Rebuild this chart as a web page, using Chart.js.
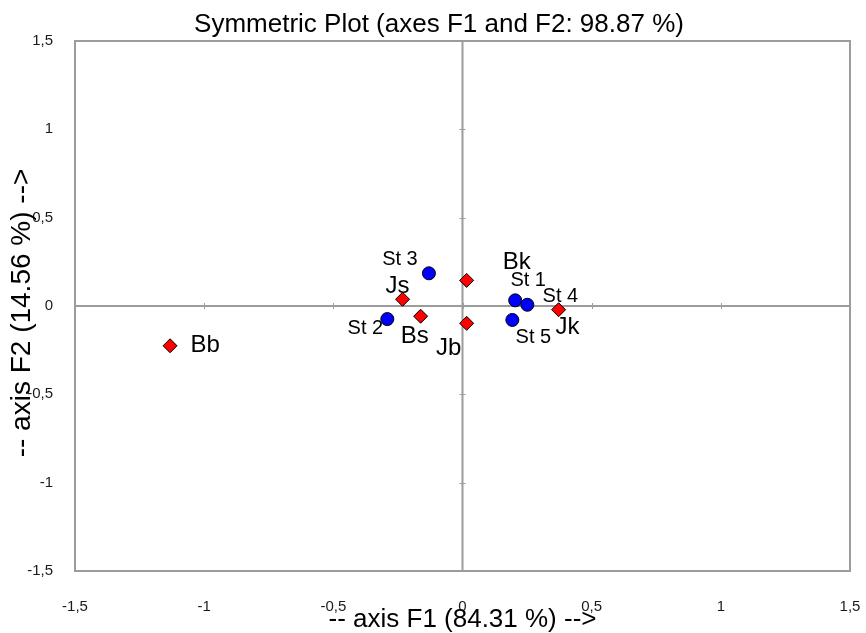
<!DOCTYPE html>
<html>
<head>
<meta charset="utf-8">
<script src="https://cdn.jsdelivr.net/npm/chart.js@4/dist/chart.umd.min.js"></script>
<style>
  html, body { margin: 0; padding: 0; background: #ffffff; }
  #wrap { width: 866px; height: 633px; }
</style>
</head>
<body>
<div id="wrap"><canvas id="c" width="866" height="633"></canvas></div>
<script>
// ---- data ----
const rowLabels = ['St 1', 'St 2', 'St 3', 'St 4', 'St 5'];
const rowF1 = [0.204, -0.291, -0.130, 0.251, 0.193];
const rowF2 = [0.032, -0.074, 0.185, 0.007, -0.079];

const colLabels = ['Bb', 'Bk', 'Bs', 'Jb', 'Jk', 'Js'];
const colF1 = [-1.132, 0.016, -0.162, 0.016, 0.372, -0.232];
const colF2 = [-0.225, 0.145, -0.058, -0.098, -0.021, 0.038];

const xTickLabels = ['-1,5', '-1', '-0,5', '0', '0,5', '1', '1,5'];
const yTickLabels = ['-1,5', '-1', '-0,5', '0', '0,5', '1', '1,5'];

const chartTitle = 'Symmetric Plot (axes F1 and F2: 98.87 %)';
const xTitle = '-- axis F1 (84.31 %) -->';
const yTitle = '-- axis F2 (14.56 %) -->';

// ---- label placement (style only) ----
const rowLabelOffsets = [[13, -20], [-22, 9], [-29, -14], [33, -8], [21, 18]];
const colLabelOffsets = [[35, 0], [50, -18], [-6, 20], [-18, 25], [9, 18], [-5, -13]];

const FONT = "'Liberation Sans', Arial, sans-serif";

const deco = {
  id: 'deco',
  beforeDatasetsDraw(chart) {
    const { ctx, chartArea: a, scales: { x, y } } = chart;
    const x0 = x.getPixelForValue(0), y0 = y.getPixelForValue(0);
    ctx.save();
    ctx.strokeStyle = '#9c9c9c';
    ctx.lineWidth = 2;
    ctx.strokeRect(a.left, a.top, a.right - a.left, a.bottom - a.top);
    ctx.beginPath();
    ctx.moveTo(x0, a.top); ctx.lineTo(x0, a.bottom);
    ctx.moveTo(a.left, y0); ctx.lineTo(a.right, y0);
    ctx.stroke();
    ctx.lineWidth = 1;
    ctx.beginPath();
    x.ticks.forEach(t => {
      const px = Math.round(x.getPixelForValue(t.value)) + 0.5;
      ctx.moveTo(px, y0 - 3); ctx.lineTo(px, y0 + 3);
    });
    y.ticks.forEach(t => {
      const py = Math.round(y.getPixelForValue(t.value)) + 0.5;
      ctx.moveTo(x0 - 3, py); ctx.lineTo(x0 + 3, py);
    });
    ctx.stroke();
    ctx.restore();
  },
  afterDatasetsDraw(chart) {
    const { ctx } = chart;
    ctx.save();
    ctx.fillStyle = '#000000';
    ctx.textAlign = 'center';
    ctx.textBaseline = 'middle';
    const m0 = chart.getDatasetMeta(0), m1 = chart.getDatasetMeta(1);
    ctx.font = '20px ' + FONT;
    m0.data.forEach((el, i) => {
      ctx.fillText(rowLabels[i], el.x + rowLabelOffsets[i][0], el.y + rowLabelOffsets[i][1]);
    });
    ctx.font = '24px ' + FONT;
    m1.data.forEach((el, i) => {
      ctx.fillText(colLabels[i], el.x + colLabelOffsets[i][0], el.y + colLabelOffsets[i][1]);
    });
    ctx.restore();
  },
  afterDraw(chart) {
    const { ctx, chartArea: a } = chart;
    ctx.save();
    ctx.fillStyle = '#000000';
    ctx.textAlign = 'center';
    ctx.textBaseline = 'middle';
    ctx.font = '26px ' + FONT;
    ctx.fillText(chartTitle, 439, 25);
    ctx.fillText(xTitle, (a.left + a.right) / 2, 620);
    ctx.font = '28px ' + FONT;
    ctx.translate(22, 313);
    ctx.rotate(-Math.PI / 2);
    ctx.fillText(yTitle, 0, 0);
    ctx.restore();
  }
};

new Chart(document.getElementById('c'), {
  type: 'scatter',
  data: {
    datasets: [
      {
        label: 'Rows',
        data: rowF1.map((v, i) => ({ x: v, y: rowF2[i] })),
        pointStyle: 'circle',
        pointRadius: 6.5,
        pointHoverRadius: 6.5,
        backgroundColor: '#0000ff',
        borderColor: '#000000',
        borderWidth: 1
      },
      {
        label: 'Columns',
        data: colF1.map((v, i) => ({ x: v, y: colF2[i] })),
        pointStyle: 'rectRot',
        pointRadius: 7,
        pointHoverRadius: 7,
        backgroundColor: '#ff0000',
        borderColor: '#000000',
        borderWidth: 1
      }
    ]
  },
  options: {
    responsive: false,
    animation: false,
    devicePixelRatio: 1,
    layout: { padding: { top: 41, right: 16, left: 0, bottom: 0 } },
    plugins: { legend: { display: false }, title: { display: false }, tooltip: { enabled: false } },
    scales: {
      x: {
        type: 'linear', min: -1.5, max: 1.5,
        grid: { display: false, drawTicks: false },
        border: { display: false },
        afterFit(s) { s.height = 62; s.paddingLeft = 0; s.paddingRight = 0; },
        ticks: {
          stepSize: 0.5, autoSkip: false, maxRotation: 0, padding: 27,
          color: '#1a1a1a', font: { family: FONT, size: 15 },
          callback: (v, i) => xTickLabels[i]
        }
      },
      y: {
        type: 'linear', min: -1.5, max: 1.5,
        grid: { display: false, drawTicks: false },
        border: { display: false },
        afterFit(s) { s.width = 75; s.paddingTop = 0; s.paddingBottom = 0; },
        ticks: {
          stepSize: 0.5, autoSkip: false, padding: 22,
          color: '#1a1a1a', font: { family: FONT, size: 15 },
          callback: (v, i) => yTickLabels[i]
        }
      }
    }
  },
  plugins: [deco]
});
</script>
</body>
</html>
